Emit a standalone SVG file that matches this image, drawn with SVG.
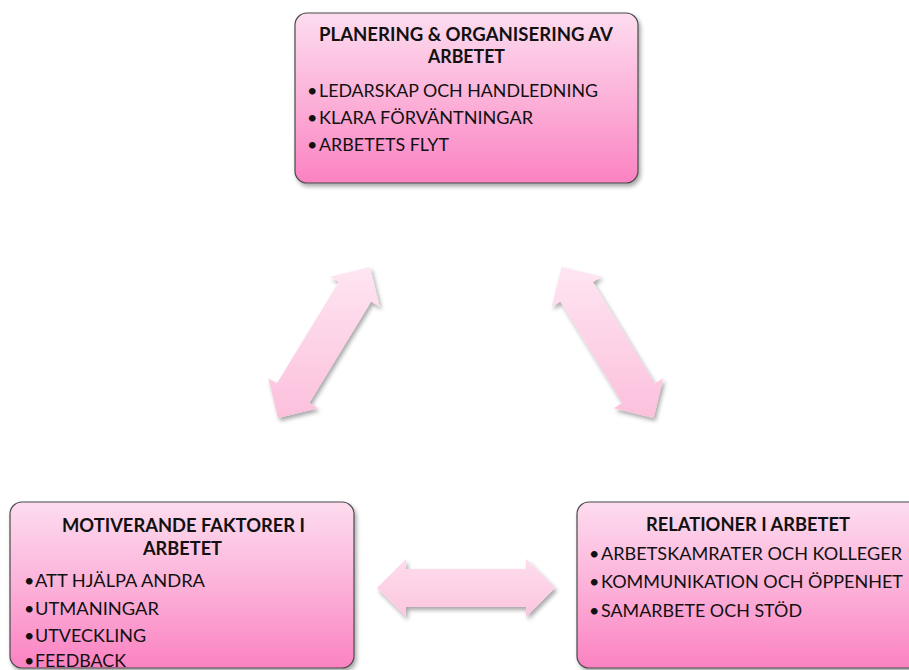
<svg xmlns="http://www.w3.org/2000/svg" width="909" height="670" viewBox="0 0 909 670">
<defs>
<linearGradient id="boxGrad" x1="0" y1="0" x2="0" y2="1">
<stop offset="0" stop-color="#fddcef"/>
<stop offset="0.5" stop-color="#fcb2d9"/>
<stop offset="1" stop-color="#fb82c2"/>
</linearGradient>
<linearGradient id="arrGradD" gradientUnits="userSpaceOnUse" x1="0" y1="265" x2="0" y2="420">
<stop offset="0" stop-color="#fee6f2"/>
<stop offset="1" stop-color="#fcbfdc"/>
</linearGradient>
<linearGradient id="arrGradH" gradientUnits="userSpaceOnUse" x1="0" y1="559" x2="0" y2="617">
<stop offset="0" stop-color="#fedcec"/>
<stop offset="1" stop-color="#fcc6e0"/>
</linearGradient>
<filter id="shadow" x="-10%" y="-10%" width="125%" height="130%">
<feDropShadow dx="2" dy="3" stdDeviation="2" flood-color="#000" flood-opacity="0.35"/>
</filter>
</defs>
<style>
.box{fill:url(#boxGrad);stroke:#4a4a4a;stroke-width:1.2;filter:url(#shadow)}
.arrow{filter:url(#shadow)}
.title{font-family:Lato,"Liberation Sans",sans-serif;font-weight:bold;font-size:18px;fill:#111;}
.item{font-family:Lato,"Liberation Sans",sans-serif;font-size:18px;fill:#111;}
.bul{font-family:Lato,"Liberation Sans",sans-serif;font-size:18px;fill:#111;}
</style>
<rect width="909" height="670" fill="#ffffff"/>
<g id="connectors">
<polygon class="arrow" fill="url(#arrGradD)" points="370,267 379.7,306.8 371.1,301.6 309.3,403.1 317.8,408.3 278,418 268.3,378.2 276.9,383.4 338.7,281.9 330.2,276.7"/>
<polygon class="arrow" fill="url(#arrGradD)" points="561.5,267 551.8,306.8 560.4,301.6 622.2,403.1 613.7,408.3 653.5,418 663.2,378.2 654.6,383.4 592.8,281.9 601.3,276.7"/>
<polygon class="arrow" fill="url(#arrGradH)" points="377,588 406,559 406,569 526,569 526,559 555,588 526,617 526,607 406,607 406,617"/>
</g>
<g id="node-planering">
<rect class="box" x="295" y="13" width="343" height="170" rx="12"/>
<text class="title" x="319" y="41" textLength="294" lengthAdjust="spacingAndGlyphs">PLANERING &amp; ORGANISERING AV</text>
<text class="title" x="428" y="63" textLength="77" lengthAdjust="spacingAndGlyphs">ARBETET</text>
<text class="bul" x="307" y="97">•</text>
<text class="item" x="319" y="97" textLength="279" lengthAdjust="spacingAndGlyphs">LEDARSKAP OCH HANDLEDNING</text>
<text class="bul" x="307" y="124">•</text>
<text class="item" x="319" y="124" textLength="214" lengthAdjust="spacingAndGlyphs">KLARA FÖRVÄNTNINGAR</text>
<text class="bul" x="307" y="151">•</text>
<text class="item" x="319" y="151" textLength="130" lengthAdjust="spacingAndGlyphs">ARBETETS FLYT</text>
</g>
<g id="node-motiverande">
<rect class="box" x="10" y="502" width="344" height="166" rx="12"/>
<text class="title" x="62" y="532" textLength="243" lengthAdjust="spacingAndGlyphs">MOTIVERANDE FAKTORER I</text>
<text class="title" x="143" y="555" textLength="79" lengthAdjust="spacingAndGlyphs">ARBETET</text>
<text class="bul" x="24" y="587">•</text>
<text class="item" x="35" y="587" textLength="170" lengthAdjust="spacingAndGlyphs">ATT HJÄLPA ANDRA</text>
<text class="bul" x="24" y="615">•</text>
<text class="item" x="35" y="615" textLength="124" lengthAdjust="spacingAndGlyphs">UTMANINGAR</text>
<text class="bul" x="24" y="642">•</text>
<text class="item" x="35" y="642" textLength="111" lengthAdjust="spacingAndGlyphs">UTVECKLING</text>
<text class="bul" x="24" y="667">•</text>
<text class="item" x="35" y="667" textLength="91" lengthAdjust="spacingAndGlyphs">FEEDBACK</text>
</g>
<g id="node-relationer">
<rect class="box" x="577" y="502" width="345" height="166" rx="12"/>
<text class="title" x="646" y="531" textLength="204" lengthAdjust="spacingAndGlyphs">RELATIONER I ARBETET</text>
<text class="bul" x="589" y="560">•</text>
<text class="item" x="601" y="560" textLength="301" lengthAdjust="spacingAndGlyphs">ARBETSKAMRATER OCH KOLLEGER</text>
<text class="bul" x="589" y="588">•</text>
<text class="item" x="601" y="588" textLength="302" lengthAdjust="spacingAndGlyphs">KOMMUNIKATION OCH ÖPPENHET</text>
<text class="bul" x="589" y="617">•</text>
<text class="item" x="601" y="617" textLength="201" lengthAdjust="spacingAndGlyphs">SAMARBETE OCH STÖD</text>
</g>
</svg>
